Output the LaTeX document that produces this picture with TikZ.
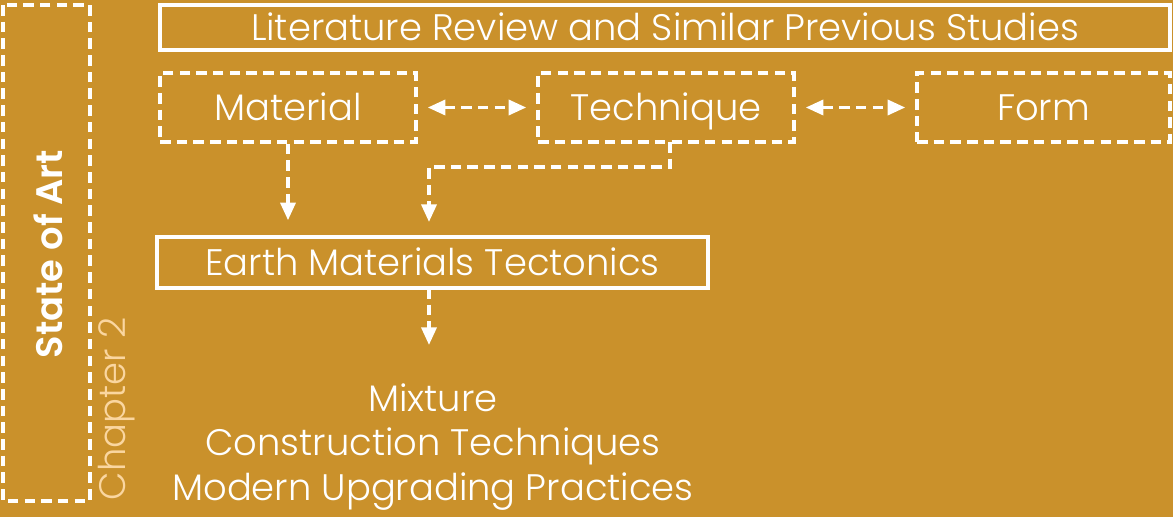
\documentclass[tikz,border=0pt]{standalone}
\usepackage{fontspec}
\setmainfont{Poppins Light}[BoldFont=Poppins SemiBold]
\usepackage{xcolor}
\usepackage{tikz}
\usetikzlibrary{arrows.meta}

\definecolor{ochre}{RGB}{202,145,43}
\definecolor{peach}{RGB}{250,214,160}

\begin{document}
\begin{tikzpicture}
		\tikzstyle{every node}=[font=\fontsize{21}{25}\selectfont, text=white]
		\tikzstyle{solidbox}=[draw=white, line width=2pt, inner sep=0pt, text height=14.5pt, text depth=0pt]
		\tikzstyle{dashbox}=[draw=white, line width=2pt, dash pattern=on 6pt off 3.5pt, inner sep=0pt, minimum height=1.38cm, text height=14.5pt, text depth=0pt]
		\tikzstyle{flow}=[white, line width=2pt, dash pattern=on 6pt off 3.5pt, -{Triangle[length=10pt, width=8.5pt]}]

		\fill[ochre] (0,0) rectangle (23.46,-10.34);
		\useasboundingbox (0,0) rectangle (23.46,-10.34);

		% left band
		\draw [white, line width=2pt, dash pattern=on 6pt off 3.5pt] (0.06,-0.1) rectangle (1.8,-10.02);
		\node [rotate=90, font=\fontsize{21}{25}\bfseries] (art) at (0.96,-5.08) {State of Art};
		\node [rotate=90, text=peach] (chap) at (2.33,-8.18) {Chapter 2};

		% boxes
		\node [solidbox, minimum width=20.2cm, minimum height=0.9cm] (lit) at (13.3,-0.55) {Literature Review and Similar Previous Studies};
		\node [dashbox, minimum width=5.12cm] (mat) at (5.76,-2.15) {Material};
		\node [dashbox, minimum width=5.12cm] (tech) at (13.32,-2.15) {Technique};
		\node [dashbox, minimum width=5.06cm] (form) at (20.87,-2.15) {Form};
		\node [solidbox, minimum width=11.02cm, minimum height=1.02cm] (earth) at (8.65,-5.25) {Earth Materials Tectonics};
		\node [align=center, font=\fontsize{21}{25.5}\selectfont] (out) at (8.66,-8.94) {Mixture\\Construction Techniques\\Modern Upgrading Practices};

		% links
		\draw [flow, {Triangle[length=10pt, width=8.5pt]}-{Triangle[length=10pt, width=8.5pt]}, shorten <=0.2cm, shorten >=0.2cm] (mat) -- (tech);
		\draw [flow, {Triangle[length=10pt, width=8.5pt]}-{Triangle[length=10pt, width=8.5pt]}, shorten <=0.2cm, shorten >=0.2cm] (tech) -- (form);
		\draw [flow, shorten >=0.3cm] (mat) -- (mat |- earth.north);
		\coordinate (tk) at (13.4,-2.84);
		\coordinate (ea) at (8.58,-4.74);
		\draw [flow, shorten >=0.3cm] (tk) -- ++(0,-0.5) -| (ea);
		\coordinate (eb) at (8.58,-5.76);
		\draw [flow] (eb) -- ++(0,-1.14);

	\end{tikzpicture}
\end{document}
